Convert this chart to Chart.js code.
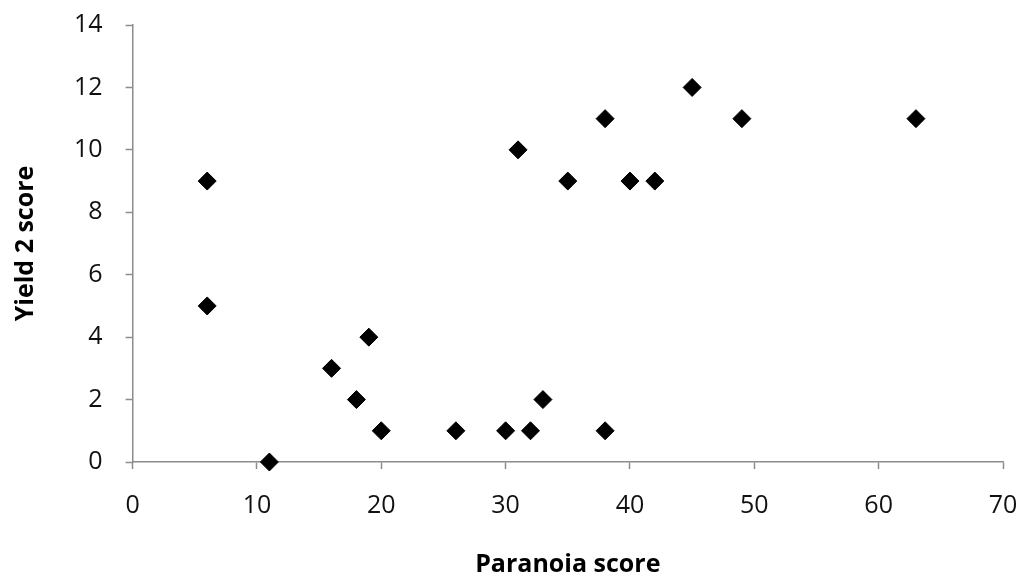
<!DOCTYPE html>
<html>
<head>
<meta charset="utf-8">
<script src="https://cdn.jsdelivr.net/npm/chart.js@4/dist/chart.umd.min.js"></script>
<style>
  html, body { margin: 0; padding: 0; background: #fff; }
  #wrap { width: 1032px; height: 580px; }
</style>
</head>
<body>
<div id="wrap"><canvas id="myChart"></canvas></div>
<script>
// paranoia score vs yield 2 score
const paranoia = [6, 6, 11, 16, 18, 19, 20, 26, 30, 31, 32, 33, 35, 38, 38, 40, 42, 45, 49, 63]
const yield2 = [9, 5, 0, 3, 2, 4, 1, 1, 1, 10, 1, 2, 9, 11, 1, 9, 9, 12, 11, 11]
const xTicks = [0, 10, 20, 30, 40, 50, 60, 70]
const yTicks = [0, 2, 4, 6, 8, 10, 12, 14]

const points = paranoia.map((x, i) => ({ x: x, y: yield2[i] }))
const axisGray = '#8c8c8c'
const tickFont = { family: 'Open Sans', size: 25 }
const titleFont = { family: 'Open Sans', size: 25, weight: 'bold' }

const ctx = document.getElementById('myChart').getContext('2d')
let chart = new Chart(ctx, {
    type: 'scatter',
    data: {
        datasets: [
            {
                label: 'Yield 2 score',
                data: points,
                clip: false,
                pointStyle: 'rectRot',
                pointRadius: 9,
                pointHoverRadius: 9,
                backgroundColor: '#000',
                borderColor: '#000',
                borderWidth: 1
            }
        ]
    },
    options: {
        responsive: true,
        maintainAspectRatio: false,
        animation: false,
        layout: { padding: { top: 0, right: 0, left: 11, bottom: 0 } },
        plugins: {
            legend: { display: false },
            tooltip: { enabled: false }
        },
        scales: {
            x: {
                type: 'linear',
                min: xTicks[0],
                max: xTicks[xTicks.length - 1],
                afterBuildTicks: axis => { axis.ticks = xTicks.map(v => ({ value: v })) },
                // keep the plot edge where the original has it
                afterFit: axis => { axis.paddingRight = 29 },
                border: { color: axisGray, width: 1.5 },
                grid: { drawOnChartArea: false, tickLength: 7, tickColor: axisGray, tickWidth: 1.5 },
                ticks: { color: '#111', font: tickFont, padding: 22 },
                title: { display: true, text: 'Paranoia score', color: '#000', font: titleFont, padding: { top: 7, bottom: 0 } }
            },
            y: {
                min: yTicks[0],
                max: yTicks[yTicks.length - 1],
                afterBuildTicks: axis => { axis.ticks = yTicks.map(v => ({ value: v })) },
                afterFit: axis => { axis.paddingTop = 25 },
                border: { color: axisGray, width: 1.5 },
                grid: { drawOnChartArea: false, tickLength: 7, tickColor: axisGray, tickWidth: 1.5 },
                ticks: { color: '#111', font: tickFont, padding: 23 },
                title: { display: true, text: 'Yield 2 score', color: '#000', font: titleFont, padding: { top: 0, bottom: 10 } }
            }
        }
    }
})
</script>
</body>
</html>
